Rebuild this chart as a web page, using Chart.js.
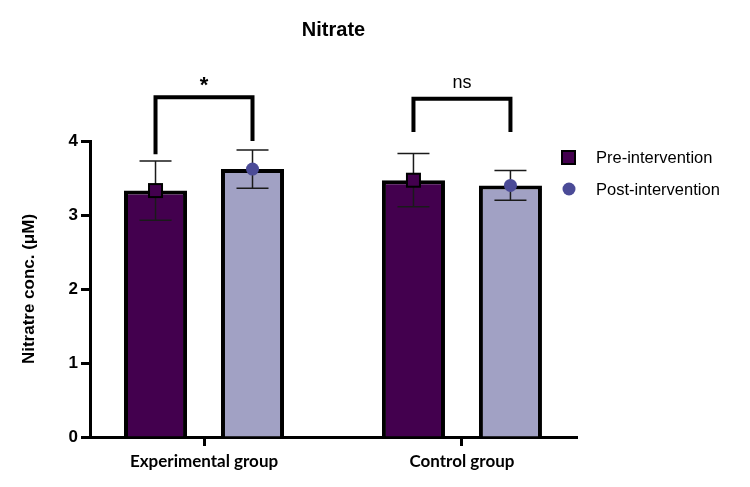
<!DOCTYPE html>
<html>
<head>
  <title>Nitrate</title>
  <script src="https://cdn.jsdelivr.net/npm/chart.js"></script>
  <style>
    body { margin: 0; background: #fff; }
    #wrap { width: 750px; height: 487px; }
  </style>
</head>
<body>
  <div id="wrap"><canvas id="chart" width="750" height="487"></canvas></div>

  <script>
    // data
    const groups = ['Experimental group', 'Control group'];
    const seriesNames = ['Pre-intervention', 'Post-intervention'];
    const preMean = [3.33, 3.47];
    const preErr = [0.40, 0.36];
    const postMean = [3.62, 3.40];
    const postErr = [0.26, 0.20];
    const sigLabels = ['*', 'ns'];
    const bracketTop = [4.59, 4.57];
    const bracketLegPre = [3.82, 4.12];
    const bracketLegPost = [4.0, 4.12];
    const sigLabelY = [4.78, 4.78];

    const preColor = '#43004e';
    const postColor = '#a1a1c4';
    const postMarker = '#4b4b97';
    const font = 'Arial, "Liberation Sans", sans-serif';

    // error bars, markers, brackets, title and legend
    const extras = {
      id: 'extras',
      afterDatasetsDraw(chart) {
        const c = chart.ctx;
        const y = chart.scales.y;
        const area = chart.chartArea;
        const means = [preMean, postMean];
        const errs = [preErr, postErr];

        c.save();
        for (let d = 0; d < 2; d++) {
          const meta = chart.getDatasetMeta(d);
          meta.data.forEach((bar, j) => {
            const x = bar.x;
            const top = y.getPixelForValue(means[d][j] + errs[d][j]);
            const bot = y.getPixelForValue(means[d][j] - errs[d][j]);
            c.strokeStyle = '#1a1a1a';
            c.lineWidth = 1.5;
            c.beginPath();
            c.moveTo(x, top); c.lineTo(x, bot);
            c.moveTo(x - 16, top); c.lineTo(x + 16, top);
            c.moveTo(x - 16, bot); c.lineTo(x + 16, bot);
            c.stroke();

            const my = y.getPixelForValue(means[d][j]);
            if (d === 0) {
              c.fillStyle = preColor;
              c.fillRect(x - 6.5, my - 6.5, 13, 13);
              c.strokeStyle = '#000';
              c.lineWidth = 2;
              c.strokeRect(x - 6.5, my - 6.5, 13, 13);
            } else {
              c.fillStyle = postMarker;
              c.beginPath();
              c.arc(x, my, 6.5, 0, Math.PI * 2);
              c.fill();
            }
          });
        }

        // significance brackets
        const preMeta = chart.getDatasetMeta(0);
        const postMeta = chart.getDatasetMeta(1);
        for (let j = 0; j < groups.length; j++) {
          const x1 = preMeta.data[j].x;
          const x2 = postMeta.data[j].x;
          const yt = y.getPixelForValue(bracketTop[j]);
          c.strokeStyle = '#000';
          c.lineWidth = 4;
          c.lineJoin = 'miter';
          c.beginPath();
          c.moveTo(x1, y.getPixelForValue(bracketLegPre[j]));
          c.lineTo(x1, yt);
          c.lineTo(x2, yt);
          c.lineTo(x2, y.getPixelForValue(bracketLegPost[j]));
          c.stroke();

          c.fillStyle = '#000';
          c.textAlign = 'center';
          c.textBaseline = 'middle';
          c.font = sigLabels[j] === '*' ? 'bold 22px ' + font : '18px ' + font;
          c.fillText(sigLabels[j], (x1 + x2) / 2, y.getPixelForValue(sigLabelY[j]) + (sigLabels[j] === '*' ? 3 : 0));
        }

        // title centred over the plot
        c.font = 'bold 20px ' + font;
        c.fillStyle = '#000';
        c.textAlign = 'center';
        c.textBaseline = 'middle';
        c.fillText('Nitrate', (area.left + area.right) / 2, 30);

        // legend
        c.textAlign = 'left';
        c.font = '16.5px ' + font;
        c.fillStyle = preColor;
        c.fillRect(562, 151, 13, 13);
        c.strokeStyle = '#000';
        c.lineWidth = 2;
        c.strokeRect(562, 151, 13, 13);
        c.fillStyle = '#000';
        c.fillText(seriesNames[0], 596, 158);
        c.fillStyle = postMarker;
        c.beginPath();
        c.arc(569, 189, 6.5, 0, Math.PI * 2);
        c.fill();
        c.fillStyle = '#000';
        c.fillText(seriesNames[1], 596, 190);
        c.restore();
      }
    };

    const ctx = document.getElementById('chart').getContext('2d');
    const chart = new Chart(ctx, {
      type: 'bar',
      data: {
        datasets: [
          {
            label: seriesNames[0],
            data: preMean.map((v, i) => ({ x: i, y: v })),
            backgroundColor: preColor,
            borderColor: '#000',
            borderWidth: 4
          },
          {
            label: seriesNames[1],
            data: postMean.map((v, i) => ({ x: i, y: v })),
            backgroundColor: postColor,
            borderColor: '#000',
            borderWidth: 4
          }
        ]
      },
      options: {
        responsive: false,
        animation: false,
        categoryPercentage: 0.752,
        barPercentage: 0.65,
        layout: { padding: { top: 141, right: 173, left: 0, bottom: 0 } },
        plugins: {
          legend: { display: false },
          tooltip: { enabled: false }
        },
        scales: {
          x: {
            type: 'linear',
            min: -0.442,
            max: 1.446,
            offset: false,
            afterBuildTicks: (s) => { s.ticks = groups.map((g, i) => ({ value: i })); },
            afterFit: (s) => { s.height = 50; },
            grid: { offset: false, drawOnChartArea: false, drawTicks: true, tickLength: 9, tickWidth: 3, tickColor: '#000' },
            border: { color: '#000', width: 3 },
            ticks: {
              padding: 5,
              color: '#000',
              font: { family: 'Lato, "Open Sans", sans-serif', weight: 'bold', size: 17 },
              callback: (v) => groups[v]
            }
          },
          y: {
            min: 0,
            max: 4,
            afterFit: (s) => { s.width = 90; },
            grid: { drawOnChartArea: false, drawTicks: true, tickLength: 9, tickWidth: 3, tickColor: '#000' },
            border: { color: '#000', width: 3 },
            ticks: {
              stepSize: 1,
              padding: 3,
              color: '#000',
              font: { family: font, weight: 'bold', size: 17 }
            },
            title: {
              display: true,
              text: 'Nitratre conc. (μM)',
              color: '#000',
              padding: { top: 19, bottom: 0 },
              font: { family: font, weight: 'bold', size: 17 }
            }
          }
        }
      },
      plugins: [extras]
    });
  </script>
</body>
</html>
